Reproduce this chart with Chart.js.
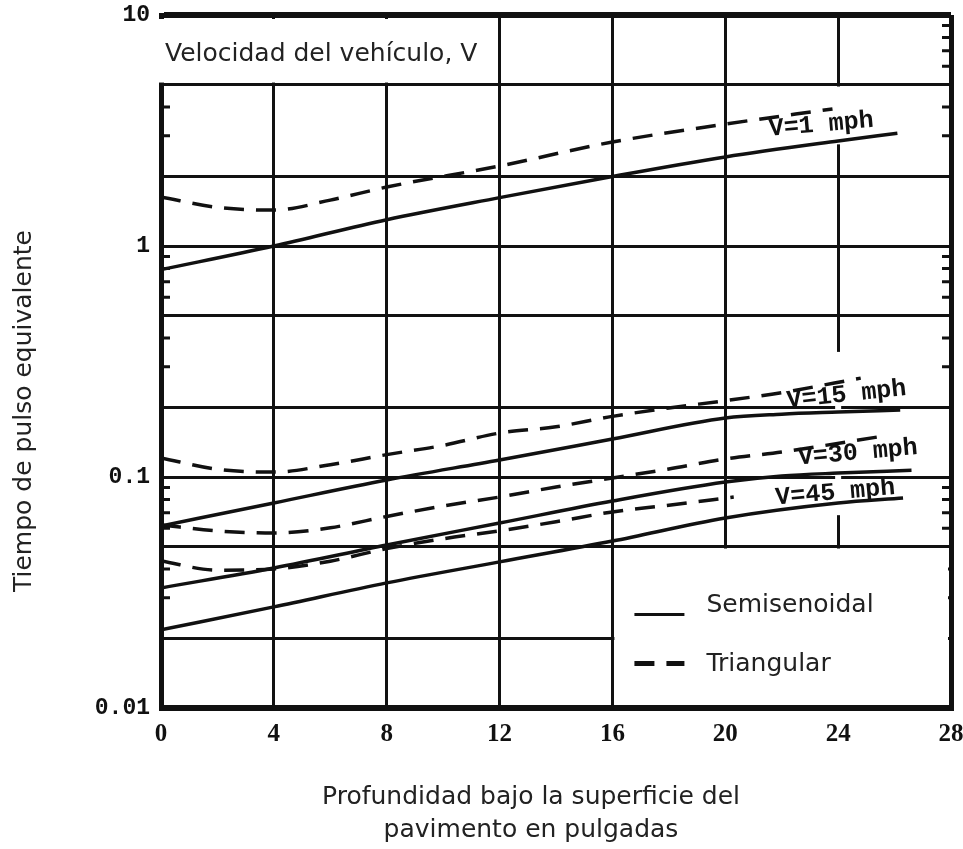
<!DOCTYPE html>
<html>
<head>
<meta charset="utf-8">
<title>Tiempo de pulso equivalente</title>
<script src="https://cdn.jsdelivr.net/npm/chart.js@4/dist/chart.umd.min.js"></script>
<style>
  html, body { margin: 0; padding: 0; background: #fff; }
  canvas { display: block; }
</style>
</head>
<body>
<canvas id="pulso" width="963" height="849"></canvas>
<script>
// depth (in) and equivalent pulse time for each vehicle speed
const depthSemi1 = [0, 4, 8, 12, 16, 20, 24, 26.1];
const semi1 = [0.79, 1.0, 1.3, 1.62, 2.0, 2.43, 2.85, 3.08];
const depthTri1 = [0, 2, 4, 6, 8, 12, 16, 20, 23.8];
const tri1 = [1.63, 1.47, 1.43, 1.58, 1.80, 2.22, 2.82, 3.37, 3.92];

const depthSemi15 = [0, 4, 8, 12, 16, 20, 22, 24, 26.2];
const semi15 = [0.0614, 0.0772, 0.097, 0.1185, 0.146, 0.180, 0.187, 0.191, 0.195];
const depthTri15 = [0, 2, 4, 6, 8, 10, 12, 14, 16, 18, 20, 22, 24.8];
const tri15 = [0.121, 0.108, 0.105, 0.113, 0.125, 0.137, 0.155, 0.165, 0.183, 0.199, 0.214, 0.232, 0.268];

const depthSemi30 = [0, 4, 8, 12, 16, 20, 22, 24, 26.6];
const semi30 = [0.0331, 0.0404, 0.0508, 0.0632, 0.0787, 0.0951, 0.101, 0.104, 0.107];
const depthTri30 = [0, 2, 4, 6, 8, 10, 12, 14, 16, 18, 20, 22, 25.4];
const tri30 = [0.062, 0.0584, 0.0572, 0.0603, 0.0675, 0.0749, 0.0819, 0.0905, 0.099, 0.1083, 0.1197, 0.1283, 0.149];

const depthSemi45 = [0, 4, 8, 12, 16, 20, 24, 26.3];
const semi45 = [0.0218, 0.0274, 0.0348, 0.0429, 0.0528, 0.0665, 0.0772, 0.0811];
const depthTri45 = [0, 2, 4, 6, 8, 10, 12, 14, 16, 18, 20.3];
const tri45 = [0.0433, 0.0395, 0.040, 0.0432, 0.049, 0.054, 0.0585, 0.064, 0.0706, 0.0755, 0.0819];

const yGrid = [0.01, 0.02, 0.05, 0.1, 0.2, 0.5, 1, 2, 5, 10];
const yLabels = { 0.01: '0.01', 0.1: '0.1', 1: '1', 10: '10' };
const minorSteps = [3, 4, 6, 7, 8, 9];
const legendNames = ['Semisenoidal', 'Triangular'];
const speedLabels = ['V=1 mph', 'V=15 mph', 'V=30 mph', 'V=45 mph'];

const INK = '#111';
const pts = (xs, ys) => xs.map((x, i) => ({ x: x, y: ys[i] }));

function curve(label, xs, ys, dashed) {
  return {
    label: label,
    data: pts(xs, ys),
    borderColor: INK,
    borderWidth: 3.5,
    borderDash: dashed ? [20, 12] : [],
    pointRadius: 0,
    fill: false,
    cubicInterpolationMode: 'monotone'
  };
}

const extras = {
  id: 'extras',
  beforeDatasetsDraw(chart) {
    const { ctx, chartArea: a, scales: { x, y } } = chart;
    ctx.save();
    // breaks in the 24 in. grid line around the speed labels
    ctx.fillStyle = '#fff';
    [[5, 2.7], [0.355, 0.067]].forEach(([hi, lo]) => {
      const px = x.getPixelForValue(24);
      const y1 = y.getPixelForValue(hi) + 2, y2 = y.getPixelForValue(lo) - 2;
      ctx.fillRect(px - 3, y1, 6, y2 - y1);
    });
    // minor ticks on both frame sides
    ctx.strokeStyle = INK;
    ctx.lineWidth = 3;
    [0.01, 0.1, 1].forEach(dec => {
      minorSteps.forEach(m => {
        const py = y.getPixelForValue(m * dec);
        ctx.beginPath();
        ctx.moveTo(a.left, py); ctx.lineTo(a.left + 9, py);
        ctx.moveTo(a.right, py); ctx.lineTo(a.right - 9, py);
        ctx.stroke();
      });
    });
    ctx.restore();
  },
  afterDatasetsDraw(chart) {
    const { ctx, chartArea: a, scales: { x, y } } = chart;
    ctx.save();

    // heading box in the top left corner
    ctx.fillStyle = '#fff';
    ctx.fillRect(a.left - 10, a.top + 4, x.getPixelForValue(11.7) - a.left + 10, y.getPixelForValue(5) - a.top - 6);
    ctx.fillStyle = '#222';
    ctx.font = '25px "DejaVu Sans"';
    ctx.textAlign = 'left';
    ctx.textBaseline = 'alphabetic';
    ctx.fillText('Velocidad del vehículo, V', a.left + 4, 61);

    // legend box in the lower right cell block
    const lx = x.getPixelForValue(16) + 2, ly = y.getPixelForValue(0.05) + 2;
    ctx.fillStyle = '#fff';
    ctx.fillRect(lx, ly, a.right - 3 - lx, a.bottom - 3 - ly);
    ctx.strokeStyle = INK;
    ctx.lineWidth = 3;
    ctx.setLineDash([]);
    ctx.beginPath(); ctx.moveTo(lx + 20, ly + 66); ctx.lineTo(lx + 70, ly + 66); ctx.stroke();
    ctx.lineWidth = 5;
    ctx.setLineDash([20, 12]);
    ctx.beginPath(); ctx.moveTo(lx + 20, ly + 115); ctx.lineTo(lx + 70, ly + 115); ctx.stroke();
    ctx.setLineDash([]);
    ctx.fillStyle = '#222';
    ctx.font = '25px "DejaVu Sans"';
    ctx.fillText(legendNames[0], lx + 92, ly + 63);
    ctx.fillText(legendNames[1], lx + 92, ly + 122);

    // speed labels along the curves
    const spots = [[23.4, 3.34, -5], [24.3, 0.2265, -6], [24.7, 0.127, -5], [23.9, 0.0853, -5]];
    ctx.fillStyle = INK;
    ctx.font = 'bold 25px "Liberation Mono"';
    ctx.textAlign = 'center';
    ctx.textBaseline = 'middle';
    spots.forEach(([dx, dv, rot], i) => {
      ctx.save();
      ctx.translate(x.getPixelForValue(dx), y.getPixelForValue(dv));
      ctx.rotate(rot * Math.PI / 180);
      ctx.fillText(speedLabels[i], 0, 0);
      ctx.restore();
    });

    // axis titles
    ctx.fillStyle = '#222';
    ctx.font = '25px "DejaVu Sans"';
    ctx.fillText('Profundidad bajo la superficie del', 531, 797);
    ctx.fillText('pavimento en pulgadas', 531, 830);
    ctx.save();
    ctx.translate(24, 411);
    ctx.rotate(-Math.PI / 2);
    ctx.fillText('Tiempo de pulso equivalente', 0, 0);
    ctx.restore();

    ctx.restore();
  }
};

new Chart(document.getElementById('pulso'), {
  type: 'line',
  data: {
    datasets: [
      curve('Semisenoidal V=1 mph', depthSemi1, semi1, false),
      curve('Triangular V=1 mph', depthTri1, tri1, true),
      curve('Semisenoidal V=15 mph', depthSemi15, semi15, false),
      curve('Triangular V=15 mph', depthTri15, tri15, true),
      curve('Semisenoidal V=30 mph', depthSemi30, semi30, false),
      curve('Triangular V=30 mph', depthTri30, tri30, true),
      curve('Semisenoidal V=45 mph', depthSemi45, semi45, false),
      curve('Triangular V=45 mph', depthTri45, tri45, true)
    ]
  },
  options: {
    responsive: false,
    animation: false,
    layout: { padding: { top: 15, right: 12, left: 0, bottom: 0 } },
    plugins: { legend: { display: false }, tooltip: { enabled: false } },
    scales: {
      x: {
        type: 'linear',
        min: 0,
        max: 28,
        ticks: {
          stepSize: 4,
          padding: 12,
          maxRotation: 0,
          color: INK,
          font: { family: 'Liberation Serif', weight: 'bold', size: 25 }
        },
        grid: {
          color: INK,
          drawTicks: false,
          lineWidth: c => (c.tick && (c.tick.value === 28 || c.tick.value === 0)) ? 5 : 3
        },
        border: { color: INK, width: 5 },
        afterFit(s) { s.height = 141; s.paddingLeft = 0; s.paddingRight = 0; }
      },
      y: {
        type: 'logarithmic',
        min: 0.01,
        max: 10,
        afterBuildTicks(s) { s.ticks = yGrid.map(v => ({ value: v })); },
        ticks: {
          padding: 11,
          color: INK,
          font: { family: 'Liberation Mono', weight: 'bold', size: 23 },
          callback: v => yLabels[v] || ''
        },
        grid: {
          color: INK,
          drawTicks: false,
          lineWidth: c => (c.tick && (c.tick.value === 10 || c.tick.value === 0.01)) ? 6 : 3
        },
        border: { color: INK, width: 5 },
        afterFit(s) { s.width = 161; s.paddingTop = 0; s.paddingBottom = 0; }
      }
    }
  },
  plugins: [extras]
});
</script>
</body>
</html>
